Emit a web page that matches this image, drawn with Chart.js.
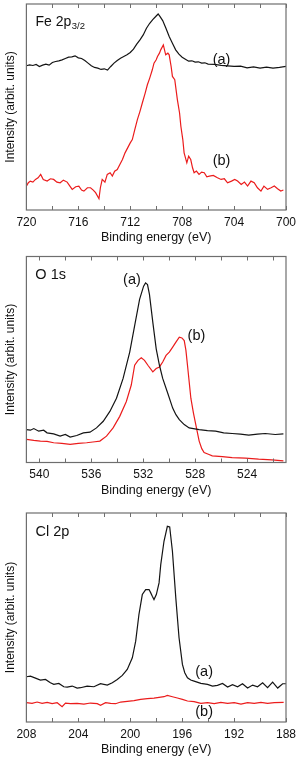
<!DOCTYPE html>
<html>
<head>
<meta charset="utf-8">
<script src="https://cdn.jsdelivr.net/npm/chart.js@4/dist/chart.umd.min.js"></script>
<style>
  html, body { margin: 0; padding: 0; background: #fff; }
  #wrap { position: relative; width: 300px; height: 759px; }
  .pane { position: absolute; left: 0; width: 300px; }
  canvas { display: block; }
</style>
</head>
<body>
<div id="wrap">
  <div class="pane" style="top:0px;height:248px"><canvas id="c1" width="300" height="248"></canvas></div>
  <div class="pane" style="top:248px;height:252px"><canvas id="c2" width="300" height="252"></canvas></div>
  <div class="pane" style="top:500px;height:259px"><canvas id="c3" width="300" height="259"></canvas></div>
</div>
<script>
// ---------- Fe 2p3/2 ----------
const feE_a = [720.0,719.75,719.5,719.25,719.0,718.75,718.5,718.25,718.0,717.75,717.5,717.25,717.0,716.75,716.5,716.25,716.0,715.75,715.5,715.25,715.0,714.75,714.5,714.25,714.0,713.75,713.5,713.25,713.0,712.75,712.5,712.25,712.0,711.75,711.5,711.25,711.0,710.75,710.5,710.25,710.0,709.85,709.7,709.5,709.25,709.0,708.75,708.5,708.25,708.0,707.75,707.5,707.25,707.0,706.75,706.5,706.25,706.0,705.5,705.0,704.5,704.0,703.5,703.0,702.5,702.0,701.5,701.0,700.5,700.0];
const feI_a = [434,437,435,438,432,436,439,436,444,447,449,452,456,460,461,464,458,456,450,442,434,429,427,423,425,421,432,442,450,457,462,467,474,484,499,512,527,547,562,574,584,590,582,570,547,522,502,482,469,460,454,448,449,445,446,442,443,439,438,435,434,432,433,428,431,427,430,427,429,432];
const feE_b = [720.0,719.85,719.7,719.5,719.3,719.1,718.9,718.7,718.4,718.15,717.9,717.65,717.4,717.15,716.86,716.65,716.47,716.2,715.96,715.75,715.57,715.3,715.06,714.85,714.67,714.41,714.3,714.16,713.95,713.77,713.55,713.38,713.2,713.0,712.8,712.6,712.4,712.2,712.0,711.84,711.65,711.45,711.25,711.07,710.85,710.68,710.5,710.3,710.17,710.0,709.9,709.75,709.65,709.45,709.27,709.1,709.0,708.85,708.75,708.57,708.37,708.2,708.1,707.95,707.85,707.64,707.5,707.34,707.2,707.08,706.9,706.7,706.5,706.3,706.1,705.9,705.6,705.28,705.0,704.75,704.5,704.2,703.95,703.73,703.45,703.2,702.96,702.7,702.45,702.2,701.93,701.7,701.42,701.15,700.9,700.65,700.4,700.2];
const feI_b = [72,82,87,84,92,97,107,92,87,94,92,84,82,90,84,72,62,70,72,60,57,67,67,60,52,34,67,92,84,107,112,102,117,122,137,152,172,187,202,212,242,272,297,322,352,377,397,422,442,452,462,472,482,497,467,472,467,432,402,392,332,292,252,212,172,142,162,152,127,112,117,107,114,112,100,102,104,97,92,94,82,87,92,87,77,84,72,87,82,67,57,72,62,67,72,64,57,60];

// ---------- O 1s ----------
const oE_a = [541.0,540.69,540.43,540.05,539.67,539.41,538.9,538.4,538.0,537.63,537.12,536.61,536.1,535.6,535.08,534.57,534.06,533.55,533.04,532.66,532.28,531.97,531.82,531.67,531.52,531.26,531.0,530.75,530.5,530.11,529.73,529.48,529.22,528.84,528.46,527.69,527.05,526.42,525.8,525.15,524.5,523.87,523.2,522.6,521.83,521.2];
const oI_a = [100,98,103,95,98,90,87,80,85,77,82,90,92,105,125,155,195,255,335,415,495,535,545,540,510,425,345,295,255,210,165,145,130,115,105,100,97,95,90,88,86,83,86,88,85,87];
const oE_b = [541.0,540.43,539.92,539.41,538.9,538.27,537.63,537.0,536.36,535.72,535.34,534.83,534.32,533.81,533.3,532.92,532.66,532.4,532.15,531.9,531.64,531.26,531.0,530.75,530.5,530.24,529.99,529.73,529.48,529.22,529.02,528.84,528.71,528.59,528.46,528.33,528.13,527.95,527.69,527.49,527.31,526.98,526.68,525.91,525.15,524.13,523.11,522.09,521.2];
const oI_b = [70,67,65,64,60,58,55,58,60,63,65,80,105,140,185,235,295,310,318,310,295,275,285,290,305,325,335,350,365,380,378,370,340,295,245,195,150,115,65,42,30,25,20,18,15,13,10,8,5];

// ---------- Cl 2p ----------
const clE_a = [208.0,207.69,207.3,206.92,206.53,206.15,205.89,205.5,205.12,204.86,204.47,204.09,203.83,203.32,202.8,202.29,201.77,201.38,201.0,200.61,200.23,199.84,199.58,199.33,199.07,198.81,198.55,198.42,198.3,198.17,197.99,197.78,197.65,197.4,197.14,196.96,196.75,196.49,196.24,195.98,195.8,195.59,195.34,195.08,194.56,194.05,193.66,193.28,192.89,192.5,192.12,191.73,191.35,190.96,190.57,190.19,189.8,189.42,189.03,188.64,188.26,188.0];
const clI_a = [136,138,132,126,128,118,113,116,106,105,108,102,103,108,106,115,111,118,128,140,158,193,243,323,383,398,398,388,378,368,383,418,473,543,588,586,513,373,253,173,148,133,126,123,116,113,108,110,116,105,112,106,115,102,111,106,118,103,120,102,115,115];
const clE_b = [208.0,207.56,207.18,206.79,206.4,206.02,205.63,205.25,204.99,204.6,204.09,203.57,203.06,202.54,202.29,201.9,201.51,201.13,200.74,200.23,199.71,199.2,198.68,198.17,197.78,197.4,197.14,196.75,196.37,195.98,195.59,195.08,194.56,194.05,193.53,193.02,192.5,191.99,191.47,190.96,190.45,189.93,189.42,188.9,188.18];
const clI_b = [58,56,60,56,59,55,58,46,57,55,56,54,57,55,50,58,56,55,60,62,64,68,70,72,74,76,80,76,72,68,63,61,56,58,55,59,56,58,54,58,56,59,56,58,59];

// tick label / title text
const xTitle = 'Binding energy (eV)';
const yTitle = 'Intensity (arbit. units)';

const FONT = "'Liberation Sans', Arial, Helvetica, sans-serif";
const BLACK = '#141414';
const RED = '#eb1c1c';

function pts(E, I) { return E.map((e, i) => ({ x: e, y: I[i] })); }

const framePlugin = {
  id: 'frame',
  afterDraw(chart, args, opts) {
    const { ctx, chartArea: a, scales: { x, y } } = chart;
    ctx.save();
    ctx.strokeStyle = '#6e6e6e';
    ctx.lineWidth = 1.2;
    ctx.strokeRect(a.left, a.top, a.right - a.left, a.bottom - a.top);
    ctx.lineWidth = 1;
    x.ticks.forEach(t => {
      const px = Math.round(x.getPixelForValue(t.value)) + 0.5;
      ctx.beginPath();
      ctx.moveTo(px, a.bottom); ctx.lineTo(px, a.bottom - 4);
      ctx.moveTo(px, a.top); ctx.lineTo(px, a.top + 4);
      ctx.stroke();
    });
    ctx.fillStyle = '#111';
    (opts.labels || []).forEach(l => {
      const px = x.getPixelForValue(l.x), py = y.getPixelForValue(l.y);
      ctx.font = (l.size || 14) + 'px ' + FONT;
      ctx.textAlign = l.align || 'left';
      ctx.textBaseline = l.base || 'alphabetic';
      ctx.fillText(l.t, px, py);
      if (l.sub) {
        const w = ctx.measureText(l.t).width;
        ctx.font = '9.5px ' + FONT;
        ctx.textAlign = 'left';
        ctx.fillText(l.sub, px + w + 0.5, py + 3);
      }
    });
    ctx.restore();
  }
};

function makeChart(id, A, B, xmin, xmax, ymax, pad, labels) {
  return new Chart(document.getElementById(id), {
    type: 'line',
    data: {
      datasets: [
        { data: A, borderColor: BLACK, borderWidth: 1.2, pointRadius: 0, tension: 0, fill: false },
        { data: B, borderColor: RED, borderWidth: 1.2, pointRadius: 0, tension: 0, fill: false }
      ]
    },
    options: {
      responsive: false,
      animation: false,
      devicePixelRatio: 1,
      parsing: false,
      layout: { padding: pad },
      plugins: { legend: { display: false }, tooltip: { enabled: false }, frame: { labels } },
      scales: {
        x: {
          type: 'linear', reverse: true, min: xmin, max: xmax,
          afterBuildTicks: s => {
            const t = [];
            for (let v = Math.ceil(s.min / 2) * 2; v <= s.max + 1e-9; v += 2) t.push({ value: v });
            s.ticks = t;
          },
          ticks: { autoSkip: false, maxRotation: 0, padding: 5, color: '#111',
                   font: { family: FONT, size: 12 },
                   callback: v => (v % 4 === 0 ? String(v) : '') },
          grid: { display: false, drawTicks: false },
          border: { display: false },
          title: { display: true, text: xTitle, color: '#111', font: { family: FONT, size: 12.5 }, padding: { top: -3.9, bottom: 0 } }
        },
        y: {
          type: 'linear', min: 0, max: ymax,
          ticks: { display: false },
          grid: { display: false, drawTicks: false },
          border: { display: false },
          title: { display: true, text: yTitle, color: '#111', font: { family: FONT, size: 12 }, padding: { top: 3, bottom: 9 } }
        }
      }
    },
    plugins: [framePlugin]
  });
}

makeChart('c1', pts(feE_a, feI_a), pts(feE_b, feI_b), 700, 720, 620,
  { left: 0, right: 14, top: 4, bottom: 2.5 },
  [ { t: 'Fe 2p', sub: '3/2', x: 719.3, y: 554, size: 14 },
    { t: '(a)', x: 704.97, y: 452, size: 14.5, align: 'center', base: 'middle' },
    { t: '(b)', x: 704.97, y: 146, size: 14.5, align: 'center', base: 'middle' } ]);

makeChart('c2', pts(oE_a, oI_a), pts(oE_b, oI_b), 521, 541, 625,
  { left: 0, right: 14, top: 8.5, bottom: 2 },
  [ { t: 'O 1s', x: 540.31, y: 558, size: 14.5 },
    { t: '(a)', x: 532.87, y: 555, size: 14.5, align: 'center', base: 'middle' },
    { t: '(b)', x: 527.9, y: 383, size: 14.5, align: 'center', base: 'middle' } ]);

makeChart('c3', pts(clE_a, clI_a), pts(clE_b, clI_b), 188, 208, 628,
  { left: 0, right: 14, top: 13, bottom: 1.5 },
  [ { t: 'Cl 2p', x: 207.3, y: 560, size: 14.5 },
    { t: '(a)', x: 194.31, y: 151, size: 14.5, align: 'center', base: 'middle' },
    { t: '(b)', x: 194.31, y: 31, size: 14.5, align: 'center', base: 'middle' } ]);
</script>
</body>
</html>
